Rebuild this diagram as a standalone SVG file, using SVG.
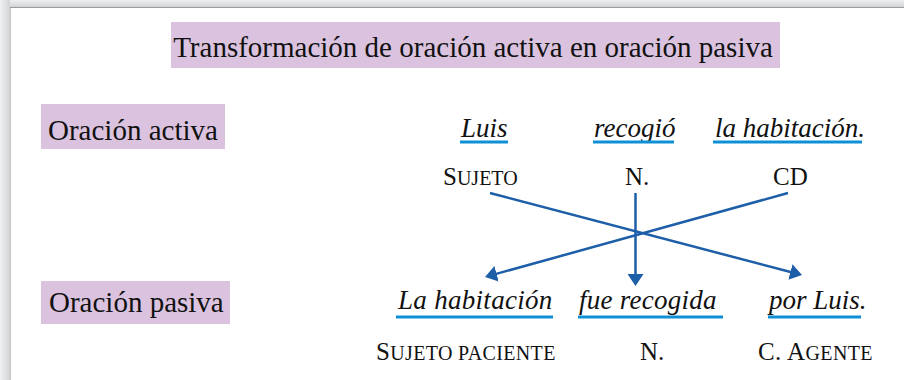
<svg xmlns="http://www.w3.org/2000/svg" width="904" height="380" viewBox="0 0 904 380">
  <defs>
    <linearGradient id="gTop" x1="0" y1="0" x2="0" y2="1">
      <stop offset="0" stop-color="#eeeff0"/>
      <stop offset="1" stop-color="#cfd0d1"/>
    </linearGradient>
    <linearGradient id="gLeft" x1="0" y1="0" x2="1" y2="0">
      <stop offset="0" stop-color="#f1f2f3"/>
      <stop offset="1" stop-color="#d2d3d4"/>
    </linearGradient>
    <marker id="arr" viewBox="0 0 12 16" markerWidth="12" markerHeight="16" refX="6" refY="8" orient="auto" markerUnits="userSpaceOnUse">
      <path d="M0,0 L12,8 L0,16 z" fill="#1d5ea8"/>
    </marker>
    <style>
      .box { fill: #dbc3df; }
      .hd { font-size: 29px; fill: #111111; }
      .it { font-size: 27px; font-style: italic; fill: #111111; }
      .sc { font-size: 25px; fill: #111111; }
      .sm { font-size: 20px; }
      .ul { stroke: #0f8fd6; stroke-width: 3; fill: none; }
      .ar { stroke: #1d5ea8; stroke-width: 2.5; fill: none; marker-end: url(#arr); }
    </style>
  </defs>

  <rect x="0" y="0" width="904" height="380" fill="#ffffff"/>
  <rect x="0" y="0" width="904" height="8" fill="url(#gTop)"/>
  <rect x="0" y="0" width="10" height="380" fill="url(#gLeft)"/>
  <line x1="10" y1="7.5" x2="904" y2="7.5" stroke="#9a9b9c" stroke-width="1"/>
  <line x1="10.5" y1="8" x2="10.5" y2="380" stroke="#c4c5c6" stroke-width="1"/>

  <g id="title">
    <rect class="box" x="171" y="22" width="609" height="46"/>
    <text class="hd" font-family="Liberation Serif, serif" x="473" y="57" text-anchor="middle">Transformación de oración activa en oración pasiva</text>
  </g>

  <g id="label-activa">
    <rect class="box" x="41" y="104" width="184" height="45"/>
    <text class="hd" font-family="Liberation Serif, serif" x="48" y="140">Oración activa</text>
  </g>

  <g id="label-pasiva">
    <rect class="box" x="41" y="281" width="189" height="43"/>
    <text class="hd" font-family="Liberation Serif, serif" x="49" y="312">Oración pasiva</text>
  </g>

  <g id="act-sujeto">
    <text class="it" font-family="Liberation Serif, serif" x="461" y="137">Luis</text>
    <line class="ul" x1="460" y1="142" x2="508" y2="142"/>
    <text class="sc" font-family="Liberation Serif, serif" x="443" y="185">S<tspan class="sm">UJETO</tspan></text>
  </g>

  <g id="act-nucleo">
    <text class="it" font-family="Liberation Serif, serif" x="594" y="137">recogió</text>
    <line class="ul" x1="593" y1="142" x2="674" y2="142"/>
    <text class="sc" font-family="Liberation Serif, serif" x="625" y="185">N.</text>
  </g>

  <g id="act-cd">
    <text class="it" font-family="Liberation Serif, serif" x="715" y="137">la habitación.</text>
    <line class="ul" x1="713" y1="142" x2="862" y2="142"/>
    <text class="sc" font-family="Liberation Serif, serif" x="773" y="185">CD</text>
  </g>

  <g id="pas-sujeto">
    <text class="it" font-family="Liberation Serif, serif" x="398" y="309" letter-spacing="0.3">La habitación</text>
    <line class="ul" x1="396" y1="317" x2="553" y2="317"/>
    <text class="sc" font-family="Liberation Serif, serif" x="376" y="360" letter-spacing="0.35">S<tspan class="sm">UJETO PACIENTE</tspan></text>
  </g>

  <g id="pas-nucleo">
    <text class="it" font-family="Liberation Serif, serif" x="579" y="309" letter-spacing="0.25">fue recogida</text>
    <line class="ul" x1="578" y1="317" x2="723" y2="317"/>
    <text class="sc" font-family="Liberation Serif, serif" x="640" y="360">N.</text>
  </g>

  <g id="pas-agente">
    <text class="it" font-family="Liberation Serif, serif" x="769" y="309">por Luis.</text>
    <line class="ul" x1="768" y1="317" x2="861" y2="317"/>
    <text class="sc" font-family="Liberation Serif, serif" x="758" y="360" letter-spacing="0.4">C. A<tspan class="sm">GENTE</tspan></text>
  </g>

  <g id="connectors">
    <line class="ar" x1="490" y1="193" x2="796.2" y2="273.5"/>
    <line class="ar" x1="788" y1="193" x2="490.8" y2="275.4"/>
    <line class="ar" x1="635.5" y1="193" x2="635.5" y2="280"/>
  </g>
</svg>
